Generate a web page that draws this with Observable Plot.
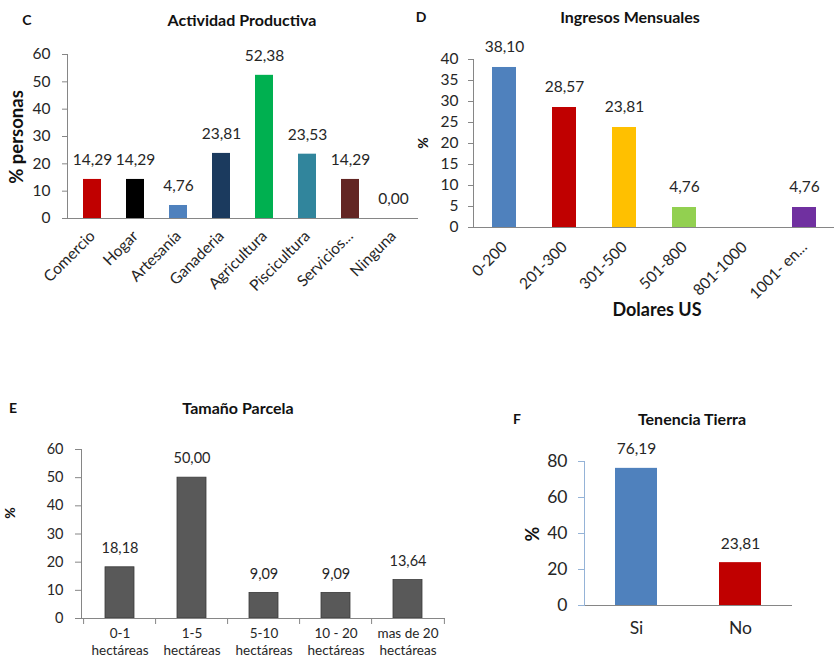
<!DOCTYPE html>
<html><head><meta charset="utf-8">
<script src="https://cdn.jsdelivr.net/npm/d3@7"></script>
<script src="https://cdn.jsdelivr.net/npm/@observablehq/plot@0.6"></script>
<style>
body{margin:0;background:#fff;font-family:Lato,"Open Sans",sans-serif;}
#root{position:relative;width:835px;height:660px;overflow:hidden;background:#fff;}
.p{position:absolute;}
.t{position:absolute;white-space:nowrap;font-weight:bold;color:#111;transform:translate(-50%,-50%);line-height:1;}
.r{transform:translate(-50%,-50%) rotate(-90deg);}
</style></head><body><div id="root"></div>
<script>
// Panel C – Actividad Productiva
const actividadCats = ["Comercio","Hogar","Artesanía","Ganaderia","Agricultura","Piscicultura","Servicios...","Ninguna"];
const actividadValues = [14.29, 14.29, 4.76, 23.81, 52.38, 23.53, 14.29, 0.00];
const actividadColors = ["#C00000","#000000","#4F81BD","#1B3A5E","#00B050","#31859C","#632523","#BFBFBF"];
const actividadTicks = [0,10,20,30,40,50,60];

// Panel D – Ingresos Mensuales
const ingresosCats = ["0-200","201-300","301-500","501-800","801-1000","1001- en..."];
const ingresosValues = [38.10, 28.57, 23.81, 4.76, null, 4.76];
const ingresosColors = ["#4F81BD","#C00000","#FFC000","#92D050","#BFBFBF","#7030A0"];
const ingresosTicks = [0,5,10,15,20,25,30,35,40];

// Panel E – Tamaño Parcela
const parcelaCats = ["0-1\nhectáreas","1-5\nhectáreas","5-10\nhectáreas","10 - 20\nhectáreas","mas de 20\nhectáreas"];
const parcelaValues = [18.18, 50.00, 9.09, 9.09, 13.64];
const parcelaTicks = [0,10,20,30,40,50,60];

// Panel F – Tenencia Tierra
const tenenciaCats = ["Si","No"];
const tenenciaValues = [76.19, 23.81];
const tenenciaColors = ["#4F81BD","#C00000"];
const tenenciaTicks = [0,20,40,60,80];

const fmt = d3.formatLocale({decimal:",",thousands:".",grouping:[3],currency:["",""]}).format(".2f");
const rows = (cats, vals) => cats.map((c,i)=>({cat:c, value:vals[i]})).filter(d=>d.value!=null);
const style = {background:"transparent", overflow:"visible", fontFamily:"Lato, 'Open Sans', sans-serif", fontSize:"14px"};
const axisGray = "#868686", ink = "#262626";

const root = document.getElementById("root");
function place(svg, left, top){ svg.classList.add("p"); svg.style.left=left+"px"; svg.style.top=top+"px"; root.appendChild(svg); }
function label(txt, x, y, size, rot){ const d=document.createElement("div"); d.className="t"+(rot?" r":""); d.textContent=txt; d.style.left=x+"px"; d.style.top=y+"px"; d.style.fontSize=size+"px"; root.appendChild(d); }

// C
const dataC = rows(actividadCats, actividadValues);
place(Plot.plot({
  width:420, height:330, marginLeft:67, marginTop:54, marginBottom:112, marginRight:2, style,
  x:{domain:actividadCats, paddingInner:0.57, paddingOuter:0.285, label:null},
  y:{domain:[0,60], label:null},
  color:{domain:actividadCats, range:actividadColors},
  marks:[
    Plot.barY(dataC,{x:"cat", y:"value", fill:"cat"}),
    Plot.ruleY([0],{stroke:axisGray}),
    Plot.frame({anchor:"left", stroke:axisGray}),
    Plot.axisY({ticks:actividadTicks, tickSize:5, tickPadding:12, fontSize:15.5, fill:ink, stroke:axisGray, label:null}),
    Plot.axisX({tickSize:0, tickRotate:-45, tickPadding:15, fontSize:15.5, fill:ink, label:null}),
    Plot.text(dataC,{x:"cat", y:"value", text:d=>fmt(d.value), dy:-19, fontSize:15.5, fill:ink})
  ]
}), 0, 0);

// D
const dataD = rows(ingresosCats, ingresosValues);
place(Plot.plot({
  width:425, height:330, marginLeft:63, marginTop:59, marginBottom:103, marginRight:1, style,
  x:{domain:ingresosCats, paddingInner:0.6, paddingOuter:0.3, label:null},
  y:{domain:[0,40], label:null},
  color:{domain:ingresosCats, range:ingresosColors},
  marks:[
    Plot.barY(dataD,{x:"cat", y:"value", fill:"cat"}),
    Plot.ruleY([0],{stroke:axisGray}),
    Plot.frame({anchor:"left", stroke:axisGray}),
    Plot.axisY({ticks:ingresosTicks, tickSize:5, tickPadding:10, fontSize:15.5, fill:ink, stroke:axisGray, label:null}),
    Plot.axisX({tickSize:0, tickRotate:-45, tickPadding:17, fontSize:15.5, fill:ink, label:null}),
    Plot.text(dataD,{x:"cat", y:"value", text:d=>fmt(d.value), dy:-20, fontSize:15.5, fill:ink})
  ]
}), 410, 0);

// E
const dataE = rows(parcelaCats, parcelaValues);
const stepE = (460-81-15)/parcelaCats.length;
place(Plot.plot({
  width:460, height:270, marginLeft:81, marginTop:59, marginBottom:42, marginRight:15, style,
  x:{domain:parcelaCats, paddingInner:0.6, paddingOuter:0.3, label:null},
  y:{domain:[0,60], label:null},
  marks:[
    Plot.barY(dataE,{x:"cat", y:"value", fill:"#595959", stroke:"#3a3a3a", strokeWidth:0.8}),
    Plot.ruleY([0],{stroke:axisGray}),
    Plot.frame({anchor:"left", stroke:axisGray}),
    Plot.ruleX(dataE,{x:"cat", y1:0, y2:0, dx:-stepE/2, insetBottom:-6, stroke:axisGray}),
    Plot.ruleX(dataE.slice(-1),{x:"cat", y1:0, y2:0, dx:stepE/2, insetBottom:-6, stroke:axisGray}),
    Plot.axisY({ticks:parcelaTicks, tickSize:6, tickPadding:12, fontSize:14.5, fill:ink, stroke:axisGray, label:null}),
    Plot.axisX({tickSize:0, tickPadding:8, fontSize:13.5, lineHeight:1.25, fill:ink, label:null}),
    Plot.text(dataE,{x:"cat", y:"value", text:d=>fmt(d.value), dy:-19, fontSize:14.5, fill:ink})
  ]
}), 0, 390);

// F
const dataF = rows(tenenciaCats, tenenciaValues);
place(Plot.plot({
  width:345, height:270, marginLeft:94, marginTop:71, marginBottom:55, marginRight:43, style,
  x:{domain:tenenciaCats, paddingInner:0.6, paddingOuter:0.3, label:null},
  y:{domain:[0,80], label:null},
  color:{domain:tenenciaCats, range:tenenciaColors},
  marks:[
    Plot.barY(dataF,{x:"cat", y:"value", fill:"cat"}),
    Plot.ruleY([0],{stroke:axisGray}),
    Plot.frame({anchor:"left", stroke:"#95B3D7"}),
    Plot.axisY({ticks:tenenciaTicks, tickSize:6, tickPadding:11, fontSize:17.5, fill:ink, stroke:"#95B3D7", label:null}),
    Plot.axisX({tickSize:0, tickPadding:16, fontSize:17.5, fill:ink, label:null}),
    Plot.text(dataF,{x:"cat", y:"value", text:d=>fmt(d.value), dy:-19, fontSize:15.5, fill:ink})
  ]
}), 490, 390);

// Titles and axis labels
label("C", 27, 20, 14);
label("Actividad Productiva", 242, 20, 16);
label("% personas", 16, 137, 18.5, true);
label("D", 421, 17, 14);
label("Ingresos Mensuales", 630, 17, 16);
label("%", 423, 143, 14, true);
label("Dolares US", 657, 309, 18);
label("E", 13, 408, 14);
label("Tamaño Parcela", 238, 408, 16);
label("%", 10, 513, 14, true);
label("F", 517, 419, 14);
label("Tenencia Tierra", 692, 419, 16);
label("%", 532, 534, 18, true);
</script></body></html>
